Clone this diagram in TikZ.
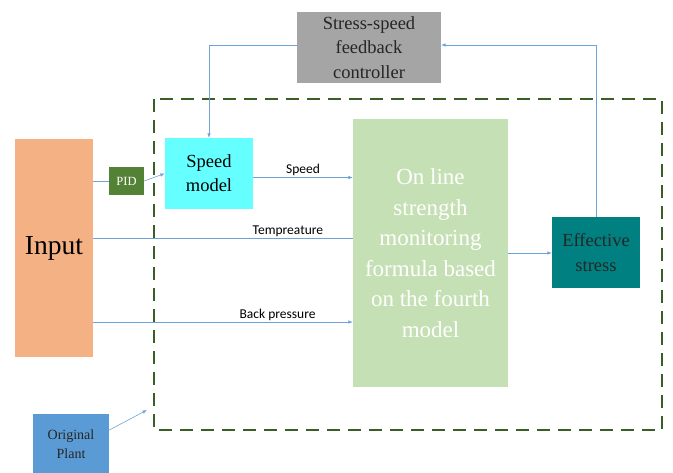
\documentclass[tikz,border=0pt]{standalone}
\usepackage{fontspec}
\setmainfont{Liberation Serif}
\newfontfamily\labelfont{Carlito}
\usetikzlibrary{arrows.meta}
\definecolor{inputc}{HTML}{F4B183}
\definecolor{pidc}{HTML}{548235}
\definecolor{speedc}{HTML}{66FFFF}
\definecolor{ctrlc}{HTML}{A5A5A5}
\definecolor{formc}{HTML}{C5E0B4}
\definecolor{stressc}{HTML}{008080}
\definecolor{plantc}{HTML}{5B9BD5}
\definecolor{linkc}{HTML}{6FA3D8}
\definecolor{framec}{HTML}{3B5E26}
\begin{document}
\begin{tikzpicture}[x=1pt,y=-1pt,
  block/.style={rectangle, draw=none, inner sep=0pt, align=center},
  conn/.style={draw=linkc, line width=0.6pt},
  arr/.style={conn, -{Latex[length=4.5pt,width=3.5pt]}},
  lbl/.style={font=\labelfont\fontsize{13.5}{15}\selectfont, text=black, inner sep=1.5pt},
  frame/.style={draw=framec, line width=1.6pt, dash pattern=on 13pt off 8pt}]
\useasboundingbox (0,0) rectangle (673,473);

% plant boundary
\draw[frame] (154,99) rectangle (662,430);

% blocks
\node[block, fill=inputc, minimum width=78pt, minimum height=218pt,
      font=\fontsize{27.5}{32}\selectfont] (input) at (54,248) {Input};
\node[block, fill=pidc, minimum width=35pt, minimum height=28pt, text=white,
      font=\fontsize{12.5}{14}\selectfont] (pid) at (126.5,181) {PID};
\node[block, fill=speedc, minimum width=88pt, minimum height=71pt,
      font=\fontsize{18.5}{24}\selectfont] (speed) at (209,173.5) {Speed\\model};
\node[block, fill=ctrlc, minimum width=144pt, minimum height=71pt, text=black!85,
      font=\fontsize{18.5}{24.5}\selectfont] (ctrl) at (369,47.5) {Stress-speed\\feedback\\controller};
\node[block, fill=formc, minimum width=155pt, minimum height=268pt, text=white,
      font=\fontsize{23}{30.5}\selectfont] (form) at (430.5,253)
      {On line\\strength\\monitoring\\formula based\\on the fourth\\model};
\node[block, fill=stressc, minimum width=88pt, minimum height=71pt, text=black!85,
      font=\fontsize{18.5}{25}\selectfont] (stress) at (596,252.5) {Effective\\stress};
\node[block, fill=plantc, minimum width=76pt, minimum height=60pt, text=black!85,
      font=\fontsize{14}{19}\selectfont] (plant) at (71,444) {Original\\Plant};

% connectors
\draw[conn] (pid.west -| input.east) -- (pid.west);
\draw[arr] (pid.east) -- (speed.west);
\coordinate (speedR) at ([yshift=-4pt]speed.east);
\draw[arr] (speedR) -- node[lbl, above] {Speed} (speedR -| form.west);
\coordinate (tempL) at ([yshift=10pt]input.east);
\draw[conn] (tempL) -- node[lbl, above, pos=0.75] {Tempreature} (tempL -| form.west);
\coordinate (backL) at ([yshift=-74pt]input.east);
\draw[arr] (backL) -- node[lbl, above, pos=0.71] {Back pressure} (backL -| form.west);
\draw[arr] (form.east) -- (form.east -| stress.west);
\coordinate (ctrlR) at ([yshift=2.5pt]ctrl.east);
\draw[arr] (stress.north) |- (ctrlR);
\coordinate (ctrlL) at ([yshift=2.5pt]ctrl.west);
\draw[arr] (ctrlL) -| (speed.north);
\coordinate (plantTip) at (147,410);
\draw[arr] (plant.20) -- (plantTip);
\end{tikzpicture}
\end{document}
